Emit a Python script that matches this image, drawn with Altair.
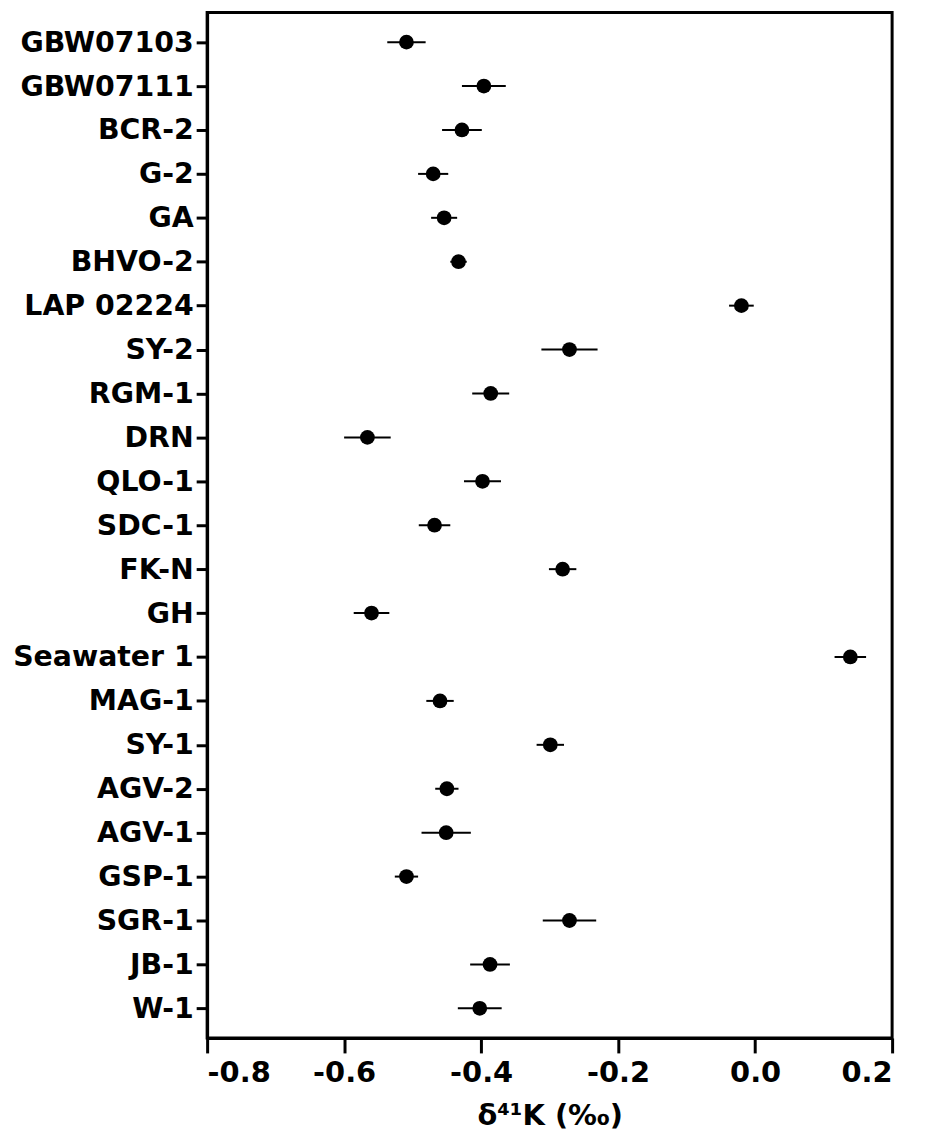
import altair as alt
import pandas as pd

samples = ["GBW07103", "GBW07111", "BCR-2", "G-2", "GA", "BHVO-2", "LAP 02224",
           "SY-2", "RGM-1", "DRN", "QLO-1", "SDC-1", "FK-N", "GH", "Seawater 1",
           "MAG-1", "SY-1", "AGV-2", "AGV-1", "GSP-1", "SGR-1", "JB-1", "W-1"]
delta = [-0.509, -0.396, -0.428, -0.470, -0.454, -0.433, -0.020,
         -0.271, -0.386, -0.566, -0.398, -0.468, -0.281, -0.560, 0.139,
         -0.460, -0.299, -0.450, -0.451, -0.509, -0.271, -0.387, -0.402]
err = [0.028, 0.032, 0.029, 0.022, 0.019, 0.012, 0.018,
       0.041, 0.027, 0.034, 0.027, 0.023, 0.020, 0.026, 0.023,
       0.020, 0.020, 0.017, 0.036, 0.017, 0.039, 0.029, 0.032]
x_ticks = [-0.8, -0.6, -0.4, -0.2, 0.0, 0.2]

df = pd.DataFrame({"sample": samples, "delta": delta, "err": err})

FONT = "DejaVu Sans"

y_enc = alt.Y(
    "sample:N", sort=samples,
    scale=alt.Scale(type="point", padding=0.675),
    axis=alt.Axis(title=None, labelFont=FONT, labelFontSize=28.5, labelFontWeight="bold",
                  labelColor="black", labelLimit=0, tickSize=11, tickWidth=3,
                  tickColor="black", domainWidth=3, domainColor="black",
                  labelPadding=3, grid=False),
)

x_scale = alt.Scale(domain=[-0.8, 0.2], nice=False, zero=False)
x_axis = alt.Axis(
    values=x_ticks, title="δ⁴¹K (‰)", grid=False,
    labelExpr="datum.value < 0 ? '-' + format(-datum.value, '.1f') : format(datum.value, '.1f')",
    labelFont=FONT, labelFontSize=29, labelFontWeight="bold", labelColor="black",
    labelPadding=6, tickSize=15, tickWidth=3, tickColor="black",
    domainWidth=3, domainColor="black",
    titleFont=FONT, titleFontSize=29, titleFontWeight="bold", titleColor="black",
    titlePadding=14,
)

base = alt.Chart(df).transform_calculate(
    lo="datum.delta - datum.err", hi="datum.delta + datum.err"
)

rules = base.mark_rule(color="black", strokeWidth=2).encode(
    x=alt.X("lo:Q", scale=x_scale, axis=x_axis),
    x2="hi:Q",
    y=y_enc,
)

points = base.mark_circle(size=220, color="black", opacity=1).encode(
    x=alt.X("delta:Q", scale=x_scale, axis=x_axis),
    y=y_enc,
)

chart = alt.layer(rules, points).properties(
    width=688, height=1030,
    autosize=alt.AutoSizeParams(type="none"),
    padding={"left": 200, "top": 2, "right": 25, "bottom": 110},
).configure_view(stroke="black", strokeWidth=3)

chart.save("out.html", embed_options={"renderer": "svg", "actions": False})
